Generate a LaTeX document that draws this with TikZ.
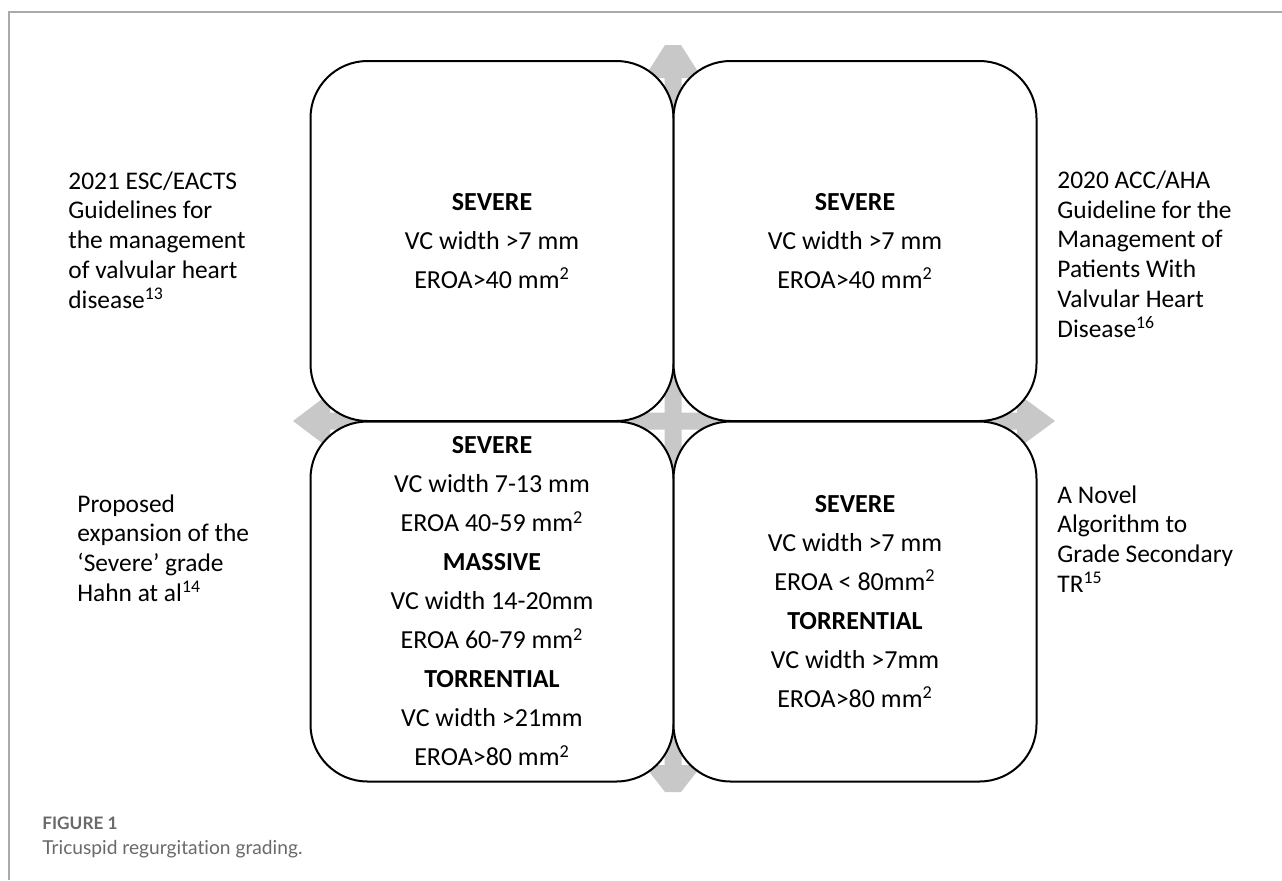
\documentclass[tikz,border=0pt]{standalone}
\usepackage{fontspec}
\setmainfont{Carlito}
\newfontfamily\capfont[Ligatures=NoCommon]{Lato}
\usepackage{tikz}
\definecolor{trgray}{RGB}{200, 200, 200}
\definecolor{trframe}{RGB}{170, 170, 170}
\definecolor{trcaption}{RGB}{105, 105, 105}

\tikzset{
  cell/.style={draw=black, line width=1pt, fill=white, rounded corners=28.5pt,
    minimum width=181.5pt, minimum height=180pt, inner sep=0pt, outer sep=0pt,
    align=center, font=\fontsize{13}{19.5}\selectfont},
  sidetxt/.style={anchor=west, align=left, inner sep=0pt,
    font=\fontsize{12.7}{14.9}\selectfont},
}

\begin{document}
\begin{tikzpicture}[x=0.5pt, y=-0.5pt]
  \useasboundingbox (0,0) rectangle (1282,880);
  % frame of the figure
  \draw [trframe, line width=0.6pt] (9,880) -- (9,12) -- (1282,12);

  % four-way arrow behind the grid
  \fill [trgray] (665,45) -- (681,45) -- (702,78) -- (681.5,78) -- (681.5,412.5)
    -- (1017,412.5) -- (1017,393) -- (1055,421) -- (1017,449) -- (1017,429.5)
    -- (681.5,429.5) -- (681.5,765) -- (702,765) -- (681,792) -- (665,792)
    -- (644,765) -- (664.5,765) -- (664.5,429.5) -- (330,429.5) -- (330,449)
    -- (293,421) -- (330,393) -- (330,412.5) -- (664.5,412.5) -- (664.5,78)
    -- (644,78) -- cycle;

  % grid cells
  \node [cell] (esc) at (492,241) {\textbf{SEVERE}\\VC width >7 mm\\EROA>40 mm\textsuperscript{2}};
  \node [cell] (acc) at (855,241) {\textbf{SEVERE}\\VC width >7 mm\\EROA>40 mm\textsuperscript{2}};
  \node [cell] (hahn) at (492,601.5) {\textbf{SEVERE}\\VC width 7-13 mm\\EROA 40-59 mm\textsuperscript{2}\\
    \textbf{MASSIVE}\\VC width 14-20mm\\EROA 60-79 mm\textsuperscript{2}\\
    \textbf{TORRENTIAL}\\VC width >21mm\\EROA>80 mm\textsuperscript{2}};
  \node [cell] (novel) at (855,601.5) {\textbf{SEVERE}\\VC width >7 mm\\EROA < 80mm\textsuperscript{2}\\
    \textbf{TORRENTIAL}\\VC width >7mm\\EROA>80 mm\textsuperscript{2}};

  % guideline labels
  \node [sidetxt] (escsrc) at (68,240) {2021 ESC/EACTS\\Guidelines for\\the management\\of valvular heart\\disease\textsuperscript{13}};
  \node [sidetxt] (accsrc) at (1057,254) {2020 ACC/AHA\\Guideline for the\\Management of\\Patients With\\Valvular Heart\\Disease\textsuperscript{16}};
  \node [sidetxt] (hahnsrc) at (77,548) {Proposed\\expansion of the\\‘Severe’ grade\\Hahn at al\textsuperscript{14}};
  \node [sidetxt] (novelsrc) at (1057,539) {A Novel\\Algorithm to\\Grade Secondary\\TR\textsuperscript{15}};

  % caption
  \node [anchor=west, inner sep=0pt, text=trcaption, font=\capfont\bfseries\fontsize{8.6}{10}\selectfont] (fig) at (42,823) {FIGURE 1};
  \node [anchor=west, inner sep=0pt, text=trcaption, font=\capfont\fontsize{9.6}{11}\selectfont] (cap) at (42,849) {Tricuspid regurgitation grading.};
\end{tikzpicture}
\end{document}
